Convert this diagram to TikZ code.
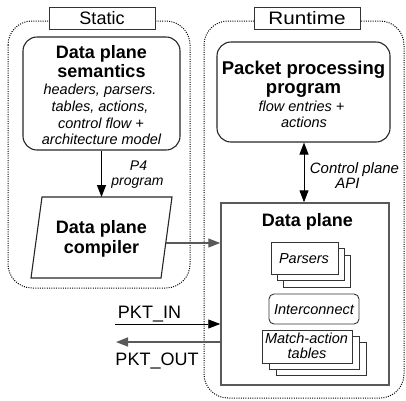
\documentclass[tikz,border=0pt]{standalone}
\usepackage{fontspec}
\setmainfont{Liberation Sans}
\usetikzlibrary{arrows.meta}
\begin{document}
\begin{tikzpicture}[x=1pt,y=-1pt,
  frame/.style={draw=black, line width=1pt, dash pattern=on 1pt off 1.3pt, rounded corners=24pt},
  tag/.style={draw=black!80, fill=white, line width=0.9pt, minimum width=106pt, minimum height=22pt, inner sep=0pt, font=\fontsize{18}{20}\selectfont},
  rbox/.style={draw=black!85, line width=1.1pt, rounded corners=14pt, inner sep=0pt},
  sbox/.style={draw=black!80, fill=white, line width=0.9pt, inner sep=0pt},
  ttl/.style={anchor=base, inner sep=0pt, font=\fontsize{18}{19}\selectfont\bfseries},
  itl/.style={anchor=base, inner sep=0pt, font=\fontsize{14.5}{16}\selectfont\itshape},
  lbl/.style={anchor=base, inner sep=0pt, font=\fontsize{18}{20}\selectfont},
  arr/.style={-{Triangle[length=12pt,width=9pt]}, line width=1pt},
  darr/.style={{Triangle[length=12pt,width=9pt]}-{Triangle[length=12pt,width=9pt]}, line width=1pt}
]
\useasboundingbox (0,0) rectangle (406,400);
% frames
\draw[frame] (8,21) rectangle (190,288);
\draw[frame] (204,21) rectangle (404,398);
\node[tag] (static) at (102,18) {Static};
\node[tag] (runtime) at (307,18) {\scalebox{1.15}[1]{Runtime}};

% semantics
\node[rbox, minimum width=157pt, minimum height=113pt] (sem) at (101.5,93.5) {};
\node[ttl] (semt1) at (101.5,58) {Data plane};
\node[ttl] (semt2) at (101.5,77) {semantics};
\node[itl] (semi1) at (100,94.5) {headers, parsers.};
\node[itl] (semi2) at (100,111.5) {tables, actions,};
\node[itl] (semi3) at (101,128) {control flow +};
\node[itl] (semi4) at (101.5,144) {architecture model};

% compiler
\coordinate (c1) at (42,197);
\coordinate (c2) at (172,197);
\coordinate (c3) at (161,278);
\coordinate (c4) at (31,278);
\coordinate (cr) at (165.8,243);
\draw[draw=black!85, line width=1.1pt] (c1) -- (c2) -- (c3) -- (c4) -- cycle;
\node[ttl] (comp1) at (101.5,233) {Data plane};
\node[ttl] (comp2) at (101.5,253) {compiler};

\draw[arr, black] (sem.south) -- (sem.south |- c1);
\node[itl, font=\fontsize{14}{16}\selectfont\itshape] (p4a) at (138.5,170) {P4};
\node[itl, font=\fontsize{14}{16}\selectfont\itshape] (p4b) at (137.5,185.5) {program};

% packet processing program
\node[rbox, minimum width=173pt, minimum height=100pt] (ppp) at (303.5,92) {};
\node[ttl, font=\fontsize{18.5}{19}\selectfont\bfseries] (ppp1) at (303.5,74) {Packet processing};
\node[ttl, font=\fontsize{18.5}{19}\selectfont\bfseries] (ppp2) at (303.5,93) {program};
\node[itl] (ppp3) at (301.5,111) {flow entries +};
\node[itl] (ppp4) at (304,127) {actions};

% data plane
\node[draw=black!65, line width=1.5pt, minimum width=168pt, minimum height=182pt, inner sep=0pt] (dp) at (305,294) {};
\node[ttl] (dpt) at (307.5,226) {Data plane};

\draw[darr, black] (ppp.south -| 304,0) -- (dp.north -| 304,0);
\node[itl, font=\fontsize{15}{16}\selectfont\itshape] (cpa) at (354.5,173) {Control plane};
\node[itl, font=\fontsize{15}{16}\selectfont\itshape] (cpb) at (347.5,188.5) {API};

\draw[arr, draw=black!65, line width=1.3pt] (cr) -- (dp.west |- cr);

% parsers stack
\draw[sbox] (283,255) rectangle (350,287);
\draw[sbox] (277,248.5) rectangle (344,280.5);
\node[sbox, minimum width=67pt, minimum height=32pt] (pars) at (304.5,258) {};
\node[itl] (parst) at (304,263) {Parsers};

% interconnect
\node[sbox, rounded corners=5pt, minimum width=90pt, minimum height=30pt] (ic) at (314,309) {};
\node[itl] (ict) at (314,314) {Interconnect};

% match-action stack
\draw[sbox] (276,342) rectangle (366,375);
\draw[sbox] (269,336) rectangle (359,369);
\node[sbox, minimum width=90pt, minimum height=33pt] (mat) at (307,346.5) {};
\node[itl] (mat1) at (306.5,343) {Match-action};
\node[itl] (mat2) at (307,358) {tables};

% PKT in/out
\coordinate (inS) at (115,324);
\coordinate (outE) at (116,342);
\draw[arr, black, line width=0.9pt] (inS) -- (dp.west |- inS);
\draw[arr, draw=black!65, line width=1.6pt] (dp.west |- outE) -- (outE);
\node[lbl] (pin) at (149.5,318) {PKT\_IN};
\node[lbl] (pout) at (157,365) {PKT\_OUT};
\end{tikzpicture}
\end{document}
